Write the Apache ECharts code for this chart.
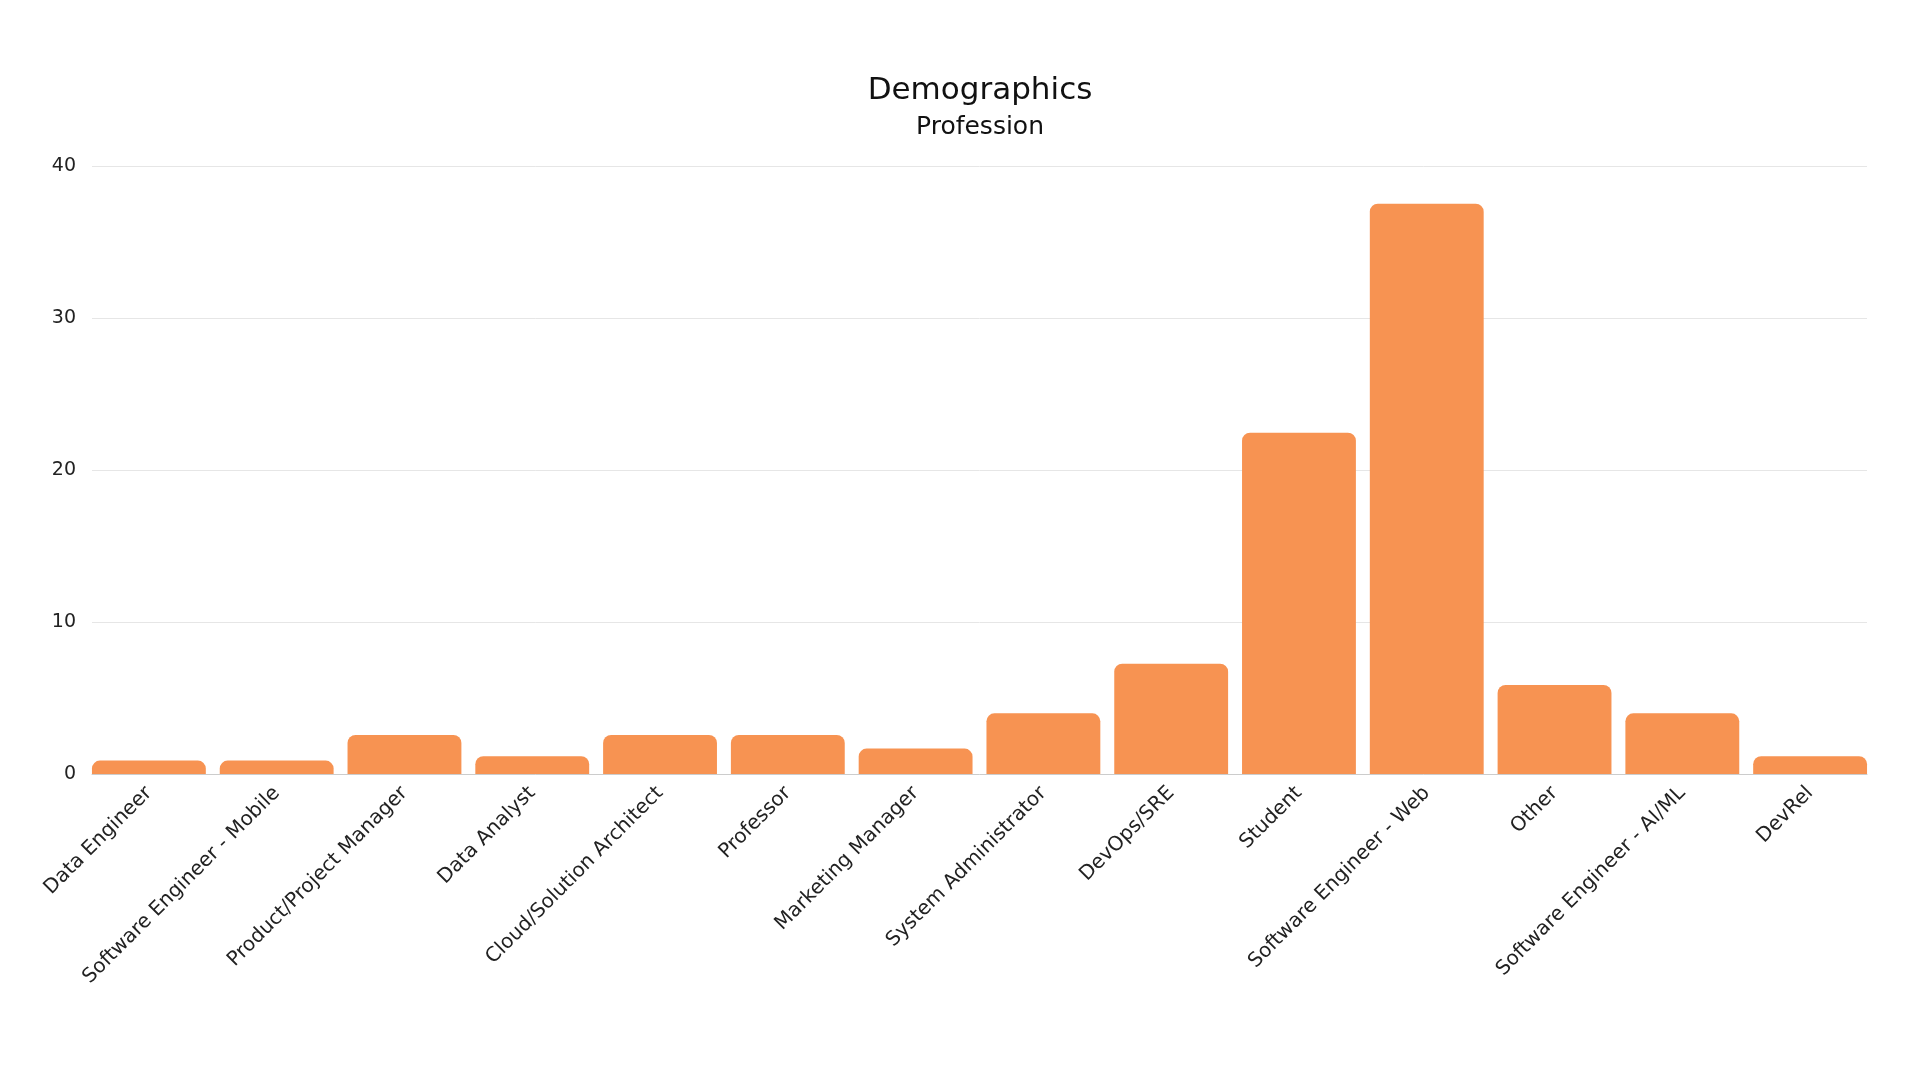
<!DOCTYPE html>
<html>
<head>
<meta charset="utf-8">
<script src="https://cdn.jsdelivr.net/npm/echarts@6/dist/echarts.min.js"></script>
<style>
html,body{margin:0;padding:0;background:#fff;}
#chart{width:1920px;height:1080px;}
</style>
</head>
<body>
<div id="chart"></div>
<script>
const titleText = 'Demographics';
const subtitleText = 'Profession';
const categories = ['Data Engineer','Software Engineer - Mobile','Product/Project Manager','Data Analyst','Cloud/Solution Architect','Professor','Marketing Manager','System Administrator','DevOps/SRE','Student','Software Engineer - Web','Other','Software Engineer - AI/ML','DevRel'];
const values = [0.88, 0.88, 2.57, 1.17, 2.57, 2.57, 1.67, 3.99, 7.26, 22.45, 37.52, 5.86, 3.99, 1.17];
const yTicks = [0, 10, 20, 30, 40];

const FONT = '"DejaVu Sans", sans-serif';
const chart = echarts.init(document.getElementById('chart'));
chart.setOption({
  backgroundColor: '#ffffff',
  animation: false,
  title: [{
    text: titleText,
    left: 975,
    top: 70,
    textAlign: 'center',
    textStyle: {fontFamily: FONT, fontSize: 31, fontWeight: 'normal', color: '#111'}
  }, {
    text: subtitleText,
    left: 975,
    top: 110,
    textAlign: 'center',
    textStyle: {fontFamily: FONT, fontSize: 25, fontWeight: 'normal', color: '#111'}
  }],
  grid: [
    {left: 92, right: 53, top: 166, bottom: 306, containLabel: false},
    {left: 85, right: 46, top: 166, bottom: 306, containLabel: false}
  ],
  xAxis: [{
    type: 'value',
    gridIndex: 0,
    min: 0, max: 1,
    axisLabel: {show: false},
    axisTick: {show: false},
    splitLine: {show: false},
    axisLine: {show: true, onZero: true, lineStyle: {color: '#cccccc', width: 1}}
  }, {
    type: 'category',
    gridIndex: 1,
    data: categories,
    axisTick: {show: false},
    axisLine: {show: false},
    axisLabel: {rotate: 45, interval: 0, margin: 16, padding: [14, 0, 0, 0], fontFamily: FONT, fontSize: 20, color: '#222'}
  }],
  yAxis: [{
    type: 'value',
    gridIndex: 0,
    min: yTicks[0],
    max: yTicks[yTicks.length - 1],
    interval: 10,
    axisLine: {show: false},
    axisTick: {show: false},
    splitLine: {lineStyle: {color: '#e6e6e6', width: 1}},
    axisLabel: {margin: 16, fontFamily: FONT, fontSize: 19, color: '#222'}
  }, {
    type: 'value',
    gridIndex: 1,
    min: yTicks[0],
    max: yTicks[yTicks.length - 1],
    interval: 10,
    show: false,
    splitLine: {show: false}
  }],
  series: [{
    type: 'bar',
    xAxisIndex: 1,
    yAxisIndex: 1,
    data: values,
    barCategoryGap: '10.9%',
    itemStyle: {color: '#f79352', borderRadius: [8, 8, 0, 0]}
  }]
});
</script>
</body>
</html>
